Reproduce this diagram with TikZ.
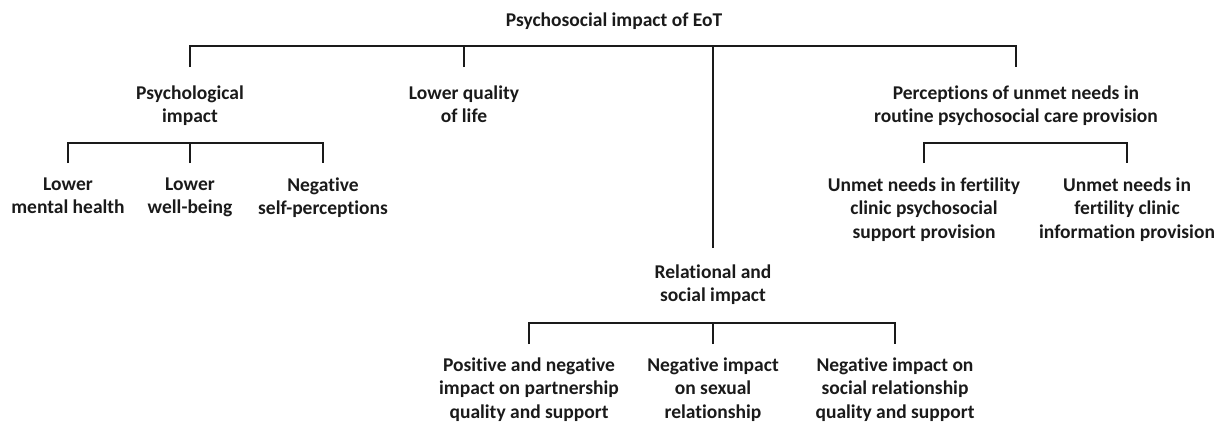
\documentclass[tikz,border=0pt]{standalone}
\usepackage{fontspec}
\setmainfont{Carlito}[Ligatures=NoCommon]
\usepackage{xcolor}
\usetikzlibrary{calc}
\definecolor{ink}{HTML}{1A1A1A}
\tikzset{
  link/.style={draw=ink, line width=0.85pt},
  lab/.style={text=ink, font=\fontsize{11.1}{13.6}\selectfont\bfseries, align=center, inner sep=0pt, anchor=north}
}

\begin{document}
\begin{tikzpicture}[x=0.02cm,y=-0.02cm]
  \useasboundingbox (0,0) rectangle (1227,433);

  % bar levels
  \coordinate (topbar) at (0,46);
  \coordinate (psybar) at (0,143);
  \coordinate (perbar) at (0,143);
  \coordinate (relbar) at (0,323);

  % nodes
  \node[lab] (root) at (614,12) {Psychosocial impact of EoT};
  \node[lab] (psy) at (190,85) {Psychological\\impact};
  \node[lab] (qol) at (464,85) {Lower quality\\of life};
  \node[lab] (per) at (1016,85) {Perceptions of unmet needs in\\routine psychosocial care provision};
  \node[lab] (lmh) at (68,177) {Lower\\mental health};
  \node[lab] (lwb) at (190,177) {Lower\\well-being};
  \node[lab] (nsp) at (323,177) {Negative\\self-perceptions};
  \node[lab] (ups) at (924,177) {Unmet needs in fertility\\clinic psychosocial\\support provision};
  \node[lab] (uip) at (1127,177) {Unmet needs in\\fertility clinic\\information provision};
  \node[lab] (rel) at (713,264) {Relational and\\social impact};
  \node[lab] (pnp) at (529,357) {Positive and negative\\impact on partnership\\quality and support};
  \node[lab] (nsr) at (713,357) {Negative impact\\on sexual\\relationship};
  \node[lab] (nsq) at (895,357) {Negative impact on\\social relationship\\quality and support};

  % drop ends
  \coordinate (psyE) at ($(psy.north)+(0,-18)$);
  \coordinate (qolE) at ($(qol.north)+(0,-18)$);
  \coordinate (perE) at ($(per.north)+(0,-18)$);
  \coordinate (relE) at ($(rel.north)+(0,-16)$);
  \coordinate (lmhE) at ($(lmh.north)+(0,-14)$);
  \coordinate (lwbE) at ($(lwb.north)+(0,-14)$);
  \coordinate (nspE) at ($(nsp.north)+(0,-14)$);
  \coordinate (upsE) at ($(ups.north)+(0,-14)$);
  \coordinate (uipE) at ($(uip.north)+(0,-14)$);
  \coordinate (pnpE) at ($(pnp.north)+(0,-13)$);
  \coordinate (nsrE) at ($(nsr.north)+(0,-13)$);
  \coordinate (nsqE) at ($(nsq.north)+(0,-13)$);

  % brackets
  \draw[link] (psyE) |- (perE |- topbar) -- (perE);
  \draw[link] (qolE) -- (qolE |- topbar);
  \draw[link] (relE) -- (relE |- topbar);

  \draw[link] (lmhE) |- (nspE |- psybar) -- (nspE);
  \draw[link] (lwbE) -- (lwbE |- psybar);

  \draw[link] (upsE) |- (uipE |- perbar) -- (uipE);

  \draw[link] (pnpE) |- (nsqE |- relbar) -- (nsqE);
  \draw[link] (nsrE) -- (nsrE |- relbar);
\end{tikzpicture}
\end{document}
